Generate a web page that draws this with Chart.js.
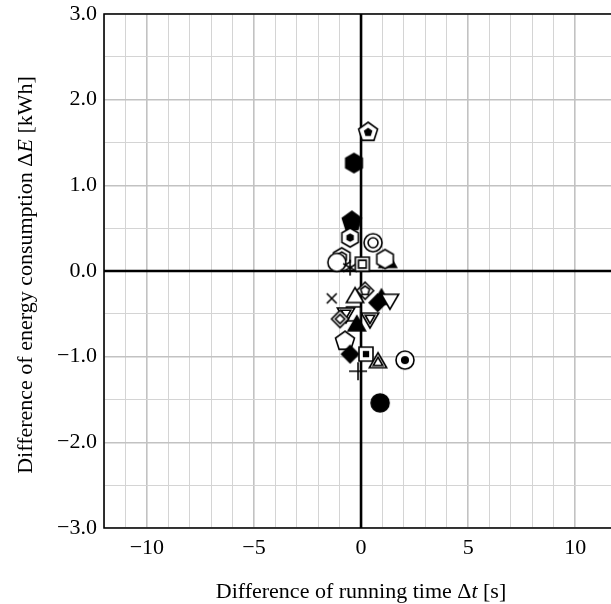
<!DOCTYPE html>
<html>
<head>
<meta charset="utf-8">
<script src="https://cdn.jsdelivr.net/npm/chart.js@4.4.1/dist/chart.umd.min.js"></script>
<style>
  html, body { margin: 0; padding: 0; background: #fff; }
  #wrap { width: 611px; height: 604px; }
</style>
</head>
<body>
<div id="wrap"><canvas id="c" width="611" height="604"></canvas></div>
<script>
// running time difference [s] per run
const dt = [0.33, -0.33, -0.43, -0.51, 0.56, 1.25, 1.12, -0.90, -1.13, -0.51, 0.06,
            0.19, -1.37, -0.28, 0.78, 0.95, 1.35, -0.35, -0.70, -0.98, 0.42, -0.20,
            -0.75, -0.51, 0.23, 0.79, -0.14, 2.05, 0.89];
// energy consumption difference [kWh]
const dE = [1.62, 1.26, 0.58, 0.39, 0.33, 0.10, 0.14, 0.16, 0.10, 0.04, 0.08,
            -0.23, -0.32, -0.31, -0.37, -0.33, -0.33, -0.50, -0.49, -0.56, -0.55, -0.64,
            -0.82, -0.97, -0.97, -1.07, -1.17, -1.04, -1.54];
// marker per run, "outer:inner"
const shapes = ['pentagon', 'hexagon', 'pentagon', 'hexagon', 'circle', 'triangle', 'hexagon', 'hexagon', 'circle', 'star', 'square',
                'diamond:pentagon', 'cross', 'triangle', 'diamond', 'triangle', 'triangleDown', 'square', 'triangleDown', 'diamond', 'triangleDown', 'triangle',
                'pentagon', 'diamond', 'square', 'triangle', 'plus', 'circle', 'circle'];
const fills = ['dot', 'filled', 'filled', 'dot', 'double', 'filled', 'open', 'double', 'open', 'line', 'double',
               'double', 'line', 'open', 'filled', 'filled', 'open', 'open', 'double', 'double', 'double', 'filled',
               'open', 'filled', 'dot', 'double', 'line', 'dot', 'filled'];

const xTicks = [-10, -5, 0, 5, 10];
const yTicks = [-3, -2, -1, 0, 1, 2, 3];

const R = { circle: 9, pentagon: 10, hexagon: 9.5, square: 7, triangle: 10, triangleDown: 10,
            diamond: 8.5, plus: 9, cross: 7, star: 8 };

function outline(ctx, shape, r) {
  ctx.beginPath();
  if (shape === 'circle') { ctx.arc(0, 0, r, 0, Math.PI * 2); return; }
  if (shape === 'square') { ctx.rect(-r, -r, 2 * r, 2 * r); return; }
  const n = { triangle: 3, triangleDown: 3, diamond: 4, pentagon: 5, hexagon: 6 }[shape];
  const a0 = shape === 'triangleDown' ? Math.PI / 2 : -Math.PI / 2;
  for (let i = 0; i < n; i++) {
    const a = a0 + i * 2 * Math.PI / n;
    ctx.lineTo(r * Math.cos(a), r * Math.sin(a));
  }
  ctx.closePath();
}

function marker(spec, fill) {
  const [outer, inner] = spec.split(':');
  const r = R[outer];
  const s = Math.ceil(2 * r + 6);
  const cv = document.createElement('canvas');
  cv.width = cv.height = s;
  const ctx = cv.getContext('2d');
  ctx.translate(s / 2, s / 2);
  ctx.lineWidth = 1.6;
  ctx.strokeStyle = '#000';
  ctx.fillStyle = '#000';
  if (fill === 'line') {
    const angs = outer === 'plus' ? [0, 90] : outer === 'cross' ? [45, 135] : [90, 30, 150];
    ctx.beginPath();
    angs.forEach(d => {
      const a = d * Math.PI / 180;
      ctx.moveTo(-r * Math.cos(a), -r * Math.sin(a));
      ctx.lineTo(r * Math.cos(a), r * Math.sin(a));
    });
    ctx.stroke();
    return cv;
  }
  outline(ctx, outer, r);
  if (fill === 'filled') { ctx.fill(); ctx.stroke(); return cv; }
  ctx.fillStyle = '#fff';
  ctx.fill();
  ctx.stroke();
  if (fill === 'dot') {
    outline(ctx, inner || outer, r * 0.45);
    ctx.fillStyle = '#000';
    ctx.fill();
  }
  if (fill === 'double') {
    outline(ctx, inner || outer, r * 0.55);
    ctx.stroke();
  }
  return cv;
}

const minus = s => String(s).replace('-', '\u2212');
const tickFont = { family: "'Liberation Serif', serif", size: 22 };

// first in list is painted first, so reverse for Chart.js order
const datasets = dt.map((x, i) => ({
  data: [{ x: x, y: dE[i] }],
  pointStyle: marker(shapes[i], fills[i]),
  pointRadius: R[shapes[i].split(':')[0]],
  showLine: false
})).reverse();

function mixed(ctx, parts, cx, cy, rot) {
  ctx.save();
  ctx.translate(cx, cy);
  ctx.rotate(rot);
  let w = 0;
  parts.forEach(p => { ctx.font = p[1]; w += ctx.measureText(p[0]).width; });
  let xx = -w / 2;
  ctx.textBaseline = 'alphabetic';
  ctx.fillStyle = '#000';
  parts.forEach(p => { ctx.font = p[1]; ctx.fillText(p[0], xx, 0); xx += ctx.measureText(p[0]).width; });
  ctx.restore();
}

const frame = {
  id: 'frame',
  beforeDatasetsDraw(chart) {
    const { ctx, chartArea: a, scales: { x, y } } = chart;
    const x0 = x.getPixelForValue(0), y0 = y.getPixelForValue(0);
    ctx.save();
    ctx.strokeStyle = '#000';
    ctx.lineWidth = 2.6;
    ctx.beginPath();
    ctx.moveTo(x0, a.top); ctx.lineTo(x0, a.bottom);
    ctx.moveTo(a.left, y0); ctx.lineTo(a.right + 5, y0);
    ctx.stroke();
    ctx.lineWidth = 1.6;
    ctx.beginPath();
    ctx.moveTo(a.right + 5, a.top); ctx.lineTo(a.left, a.top);
    ctx.lineTo(a.left, a.bottom); ctx.lineTo(a.right + 5, a.bottom);
    ctx.stroke();
    ctx.restore();
  },
  afterDraw(chart) {
    const ctx = chart.ctx;
    const reg = "22px 'Liberation Serif', serif", it = "italic 22px 'Liberation Serif', serif";
    mixed(ctx, [['Difference of running time \u0394', reg], ['t', it], [' [s]', reg]], 361, 598, 0);
    mixed(ctx, [['Difference of energy consumption \u0394', reg], ['E', it], [' [kWh]', reg]], 32, 275, -Math.PI / 2);
  }
};

const major = (v, list) => list.some(t => Math.abs(t - v) < 1e-9);
const noPad = s => { s.paddingTop = 0; s.paddingBottom = 0; s.paddingLeft = 0; s.paddingRight = 0; };

new Chart(document.getElementById('c'), {
  type: 'scatter',
  data: { datasets },
  plugins: [frame],
  options: {
    responsive: false,
    animation: false,
    layout: { autoPadding: false, padding: { top: 14, left: 0, right: 0, bottom: 0 } },
    plugins: { legend: { display: false }, tooltip: { enabled: false } },
    scales: {
      x: {
        type: 'linear', min: -12, max: 11.67,
        afterFit: s => { s.height = 76; noPad(s); },
        border: { display: false },
        grid: {
          drawTicks: false,
          color: c => major(c.tick && c.tick.value, xTicks) ? '#c2c2c2' : '#d4d4d4',
          lineWidth: c => major(c.tick && c.tick.value, xTicks) ? 1.6 : 1
        },
        ticks: {
          stepSize: 1, autoSkip: false, maxRotation: 0, padding: 7, color: '#000', font: tickFont,
          callback: v => major(v, xTicks) ? minus(v) : ''
        }
      },
      y: {
        type: 'linear', min: -3, max: 3,
        afterFit: s => { s.width = 104; noPad(s); },
        border: { display: false },
        grid: {
          drawTicks: false,
          color: c => major(c.tick && c.tick.value, yTicks) ? '#c2c2c2' : '#d4d4d4',
          lineWidth: c => major(c.tick && c.tick.value, yTicks) ? 1.6 : 1
        },
        ticks: {
          stepSize: 0.5, autoSkip: false, padding: 7, color: '#000', font: tickFont,
          callback: v => major(v, yTicks) ? minus(v.toFixed(1)) : ''
        }
      }
    }
  }
});
</script>
</body>
</html>
